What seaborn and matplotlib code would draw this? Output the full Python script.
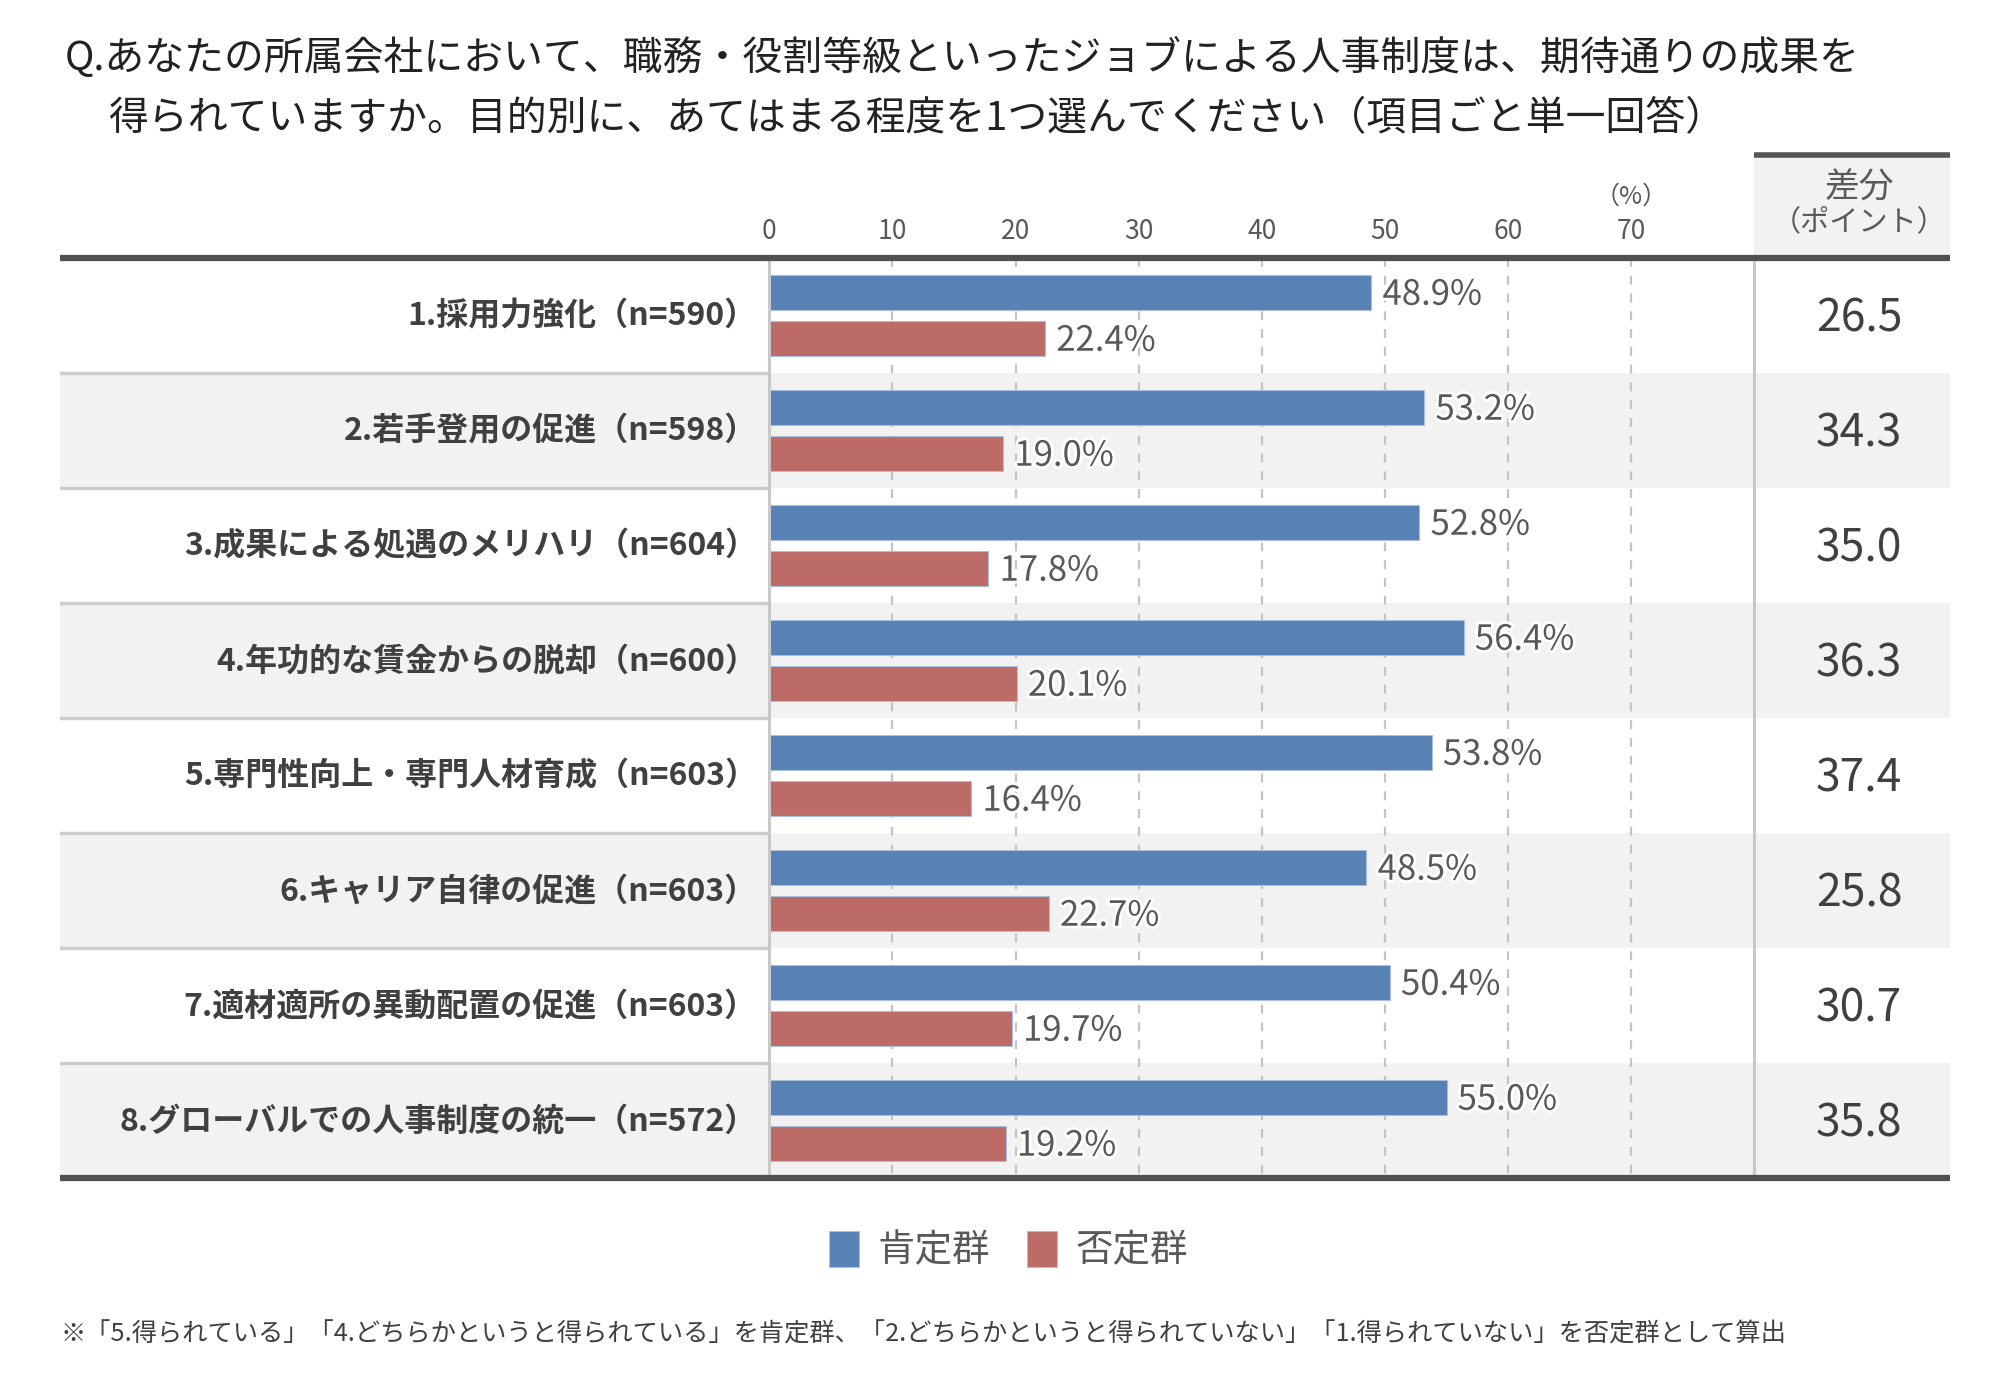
import pandas as pd
import matplotlib.pyplot as plt
import matplotlib.patheffects as pe
import seaborn as sns

# -----------------------------
# DATA
# -----------------------------

categories = [
    '1.採用力強化（n=590）',
    '2.若手登用の促進（n=598）',
    '3.成果による処遇のメリハリ（n=604）',
    '4.年功的な賃金からの脱却（n=600）',
    '5.専門性向上・専門人材育成（n=603）',
    '6.キャリア自律の促進（n=603）',
    '7.適材適所の異動配置の促進（n=603）',
    '8.グローバルでの人事制度の統一（n=572）',
]
positive = [48.9, 53.2, 52.8, 56.4, 53.8, 48.5, 50.4, 55.0]
negative = [22.4, 19.0, 17.8, 20.1, 16.4, 22.7, 19.7, 19.2]
diff_points = [26.5, 34.3, 35.0, 36.3, 37.4, 25.8, 30.7, 35.8]
groups = ['肯定群', '否定群']
ticks = [0, 10, 20, 30, 40, 50, 60, 70]

title_1 = 'Q.あなたの所属会社において、職務・役割等級といったジョブによる人事制度は、期待通りの成果を'
title_2 = '得られていますか。目的別に、あてはまる程度を1つ選んでください（項目ごと単一回答）'
footnote = ('※「5.得られている」「4.どちらかというと得られている」を肯定群、'
            '「2.どちらかというと得られていない」「1.得られていない」を否定群として算出')

df = pd.DataFrame({
    'item': categories * 2,
    'value': positive + negative,
    'group': [groups[0]] * len(categories) + [groups[1]] * len(categories),
})

# -----------------------------
# STYLE
# -----------------------------

sns.set_style('white')
plt.rcParams['font.family'] = ['Noto Sans CJK JP', 'DejaVu Sans']

BLUE = '#5881b5'
RED = '#bd6b66'
DARK = '#404040'
GREY = '#595959'
SHADE = '#f2f2f2'

X_LEFT, X_RIGHT, X_DIV = -57.6, 95.9, 80.0
X_DIFF = 88.5
n = len(categories)

fig = plt.figure(figsize=(20.09, 13.96), dpi=100)
ax = fig.add_axes([0.0299, 0.1562, 0.9408, 0.6590])

# row shading
for i in range(n):
    if i % 2 == 1:
        ax.axhspan(i - 0.5, i + 0.5, color=SHADE, zorder=0, lw=0)

# grid
for t in ticks[1:]:
    ax.plot([t, t], [-0.5, n - 0.5], color='#c4c4c4', lw=1.6,
            ls=(0, (4, 4)), zorder=0.5)

# -----------------------------
# BARS
# -----------------------------

sns.barplot(data=df, y='item', x='value', hue='group', hue_order=groups,
            palette=[BLUE, RED], saturation=1, orient='h', width=0.8,
            gap=0.22, edgecolor='#a9bfdc', linewidth=0.8, zorder=2, ax=ax)

# value labels
for container in ax.containers:
    for bar, v in zip(container, container.datavalues):
        ax.annotate(f'{v:.1f}%', xy=(bar.get_width(), bar.get_y() + bar.get_height() / 2),
                    xytext=(8, -2), textcoords='offset points', ha='left',
                    va='center', fontsize=25, color=GREY, zorder=5,
                    path_effects=[pe.withStroke(linewidth=4, foreground='white')])

ax.set_xlim(X_LEFT, X_RIGHT)
ax.set_ylim(n - 0.5, -0.5)
ax.set_xlabel('')
ax.set_ylabel('')
ax.set_xticks([])
ax.set_yticks([])
for s in ax.spines.values():
    s.set_visible(False)

# zero line and diff divider
ax.plot([0, 0], [-0.5, n - 0.5], color='#c8c8c8', lw=2.2, zorder=3)
ax.plot([X_DIV, X_DIV], [-0.5, n - 0.5], color='#c8c8c8', lw=2.2, zorder=3)

# label column separators
for i in range(n - 1):
    ax.plot([X_LEFT, 0], [i + 0.5, i + 0.5], color='#cccccc', lw=2.5, zorder=1)

# row labels and diff values
for i, (label, d) in enumerate(zip(categories, diff_points)):
    ax.text(-1.0, i + 0.01, label, ha='right', va='center', fontsize=23,
            fontweight='bold', color=DARK)
    ax.text(X_DIFF, i + 0.03, f'{d:.1f}', ha='center', va='center', fontsize=32,
            color=DARK)

# tick labels above header
for t in ticks:
    ax.text(t, -0.73, str(t), ha='center', va='center', fontsize=19,
            color=GREY, clip_on=False)
ax.text(70, -1.03, '（%）', ha='center', va='center', fontsize=18,
        color=GREY, clip_on=False)

# diff header box
ax.add_patch(plt.Rectangle((X_DIV, -1.396), X_RIGHT - X_DIV, 0.896,
                           color=SHADE, lw=0, clip_on=False, zorder=0))
ax.plot([X_DIV, X_RIGHT], [-1.396, -1.396], color='#555555', lw=4,
        clip_on=False, solid_capstyle='butt')
ax.text(X_DIFF, -1.11, '差分', ha='center', va='center', fontsize=25,
        color=GREY, clip_on=False)
ax.text(X_DIFF, -0.81, '（ポイント）', ha='center', va='center', fontsize=21,
        color=GREY, clip_on=False)

# header and bottom rules
ax.plot([X_LEFT, X_RIGHT], [-0.5, -0.5], color='#505050', lw=4.5,
        clip_on=False, zorder=4, solid_capstyle='butt')
ax.plot([X_LEFT, X_RIGHT], [n - 0.5, n - 0.5], color='#505050', lw=4.5,
        clip_on=False, zorder=4, solid_capstyle='butt')

# -----------------------------
# LEGEND / TITLE / NOTE
# -----------------------------

handles, labels = ax.get_legend_handles_labels()
if ax.get_legend() is not None:
    ax.get_legend().remove()
fig.legend(handles, labels, loc='center', bbox_to_anchor=(0.502, 0.104),
           ncol=2, frameon=False, fontsize=27, handlelength=0.8,
           handleheight=1.1, handletextpad=0.5, columnspacing=1.0,
           labelcolor=GREY)

fig.text(0.032, 0.958, title_1, ha='left', va='center', fontsize=28.7,
         color='#222222')
fig.text(0.054, 0.915, title_2, ha='left', va='center', fontsize=28.7,
         color='#222222')
fig.text(0.030, 0.044, footnote, ha='left', va='center', fontsize=18.2,
         color=DARK)

plt.savefig('out.png', dpi=100, facecolor='white')
